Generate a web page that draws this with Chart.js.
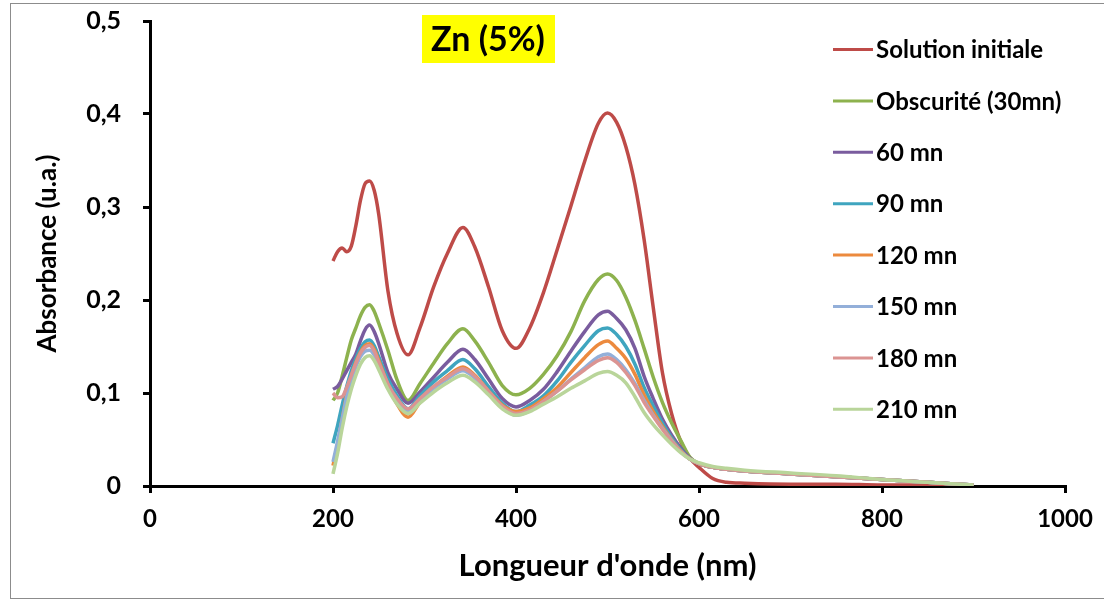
<!DOCTYPE html>
<html><head><meta charset="utf-8">
<script src="https://cdn.jsdelivr.net/npm/chart.js@4.4.1/dist/chart.umd.min.js"></script>
<style>html,body{margin:0;padding:0;background:#fff}#wrap{width:1104px;height:601px;position:relative}</style>
</head><body><div id="wrap"><canvas id="c" width="1104" height="601"></canvas></div>
<script>
const wavelengths = [200,205,210,215,220,225,230,235,240,245,250,260,270,282,295,310,325,342,355,370,385,400,415,430,445,460,475,490,500,510,520,530,540,550,560,570,580,590,600,615,630,650,700,750,800,850,900];

const solutionInitiale = [0.242,0.252,0.256,0.252,0.258,0.280,0.307,0.325,0.328,0.318,0.292,0.210,0.164,0.141,0.170,0.214,0.250,0.278,0.257,0.214,0.167,0.148,0.170,0.208,0.254,0.301,0.349,0.390,0.401,0.391,0.365,0.324,0.265,0.192,0.122,0.078,0.048,0.030,0.020,0.008,0.004,0.003,0.002,0.002,0.001,0.001,0.000];
const obscurite30 = [0.092,0.100,0.118,0.138,0.157,0.170,0.183,0.192,0.195,0.188,0.175,0.146,0.114,0.092,0.110,0.132,0.153,0.169,0.156,0.133,0.108,0.098,0.105,0.120,0.140,0.166,0.199,0.222,0.228,0.221,0.203,0.178,0.148,0.117,0.090,0.068,0.049,0.031,0.024,0.020,0.018,0.016,0.013,0.010,0.007,0.004,0.001];
const mn60 = [0.104,0.107,0.115,0.124,0.133,0.142,0.156,0.168,0.173,0.166,0.153,0.122,0.104,0.089,0.101,0.117,0.133,0.147,0.136,0.115,0.094,0.085,0.092,0.104,0.123,0.145,0.166,0.184,0.188,0.180,0.168,0.148,0.118,0.094,0.072,0.055,0.041,0.030,0.024,0.020,0.018,0.016,0.013,0.010,0.007,0.004,0.001];
const mn90 = [0.046,0.065,0.087,0.107,0.124,0.137,0.148,0.155,0.157,0.151,0.139,0.115,0.097,0.083,0.097,0.112,0.124,0.136,0.126,0.107,0.089,0.080,0.087,0.097,0.113,0.133,0.151,0.167,0.170,0.163,0.150,0.131,0.106,0.086,0.068,0.052,0.039,0.029,0.024,0.020,0.018,0.016,0.013,0.010,0.007,0.004,0.001];
const mn120 = [0.022,0.045,0.072,0.098,0.118,0.133,0.144,0.151,0.153,0.147,0.135,0.109,0.088,0.074,0.090,0.106,0.118,0.128,0.119,0.102,0.087,0.080,0.084,0.094,0.106,0.122,0.138,0.152,0.156,0.148,0.137,0.120,0.098,0.080,0.064,0.050,0.038,0.029,0.024,0.020,0.018,0.016,0.013,0.010,0.007,0.004,0.001];
const mn150 = [0.026,0.048,0.072,0.096,0.114,0.128,0.139,0.145,0.146,0.141,0.130,0.107,0.090,0.080,0.092,0.105,0.115,0.124,0.116,0.100,0.085,0.076,0.081,0.091,0.102,0.115,0.127,0.139,0.142,0.136,0.125,0.110,0.092,0.076,0.062,0.049,0.037,0.029,0.024,0.020,0.018,0.016,0.013,0.010,0.007,0.004,0.001];
const mn180 = [0.100,0.095,0.096,0.106,0.119,0.132,0.143,0.149,0.151,0.145,0.133,0.110,0.094,0.083,0.094,0.107,0.117,0.126,0.118,0.102,0.086,0.078,0.082,0.091,0.102,0.114,0.125,0.135,0.138,0.133,0.122,0.108,0.090,0.075,0.061,0.048,0.037,0.029,0.024,0.020,0.018,0.016,0.013,0.010,0.007,0.004,0.001];
const mn210 = [0.013,0.035,0.062,0.085,0.104,0.119,0.131,0.138,0.140,0.135,0.125,0.104,0.088,0.078,0.089,0.101,0.111,0.119,0.112,0.098,0.083,0.076,0.080,0.088,0.096,0.105,0.113,0.121,0.123,0.119,0.111,0.096,0.079,0.066,0.055,0.045,0.036,0.029,0.025,0.021,0.019,0.017,0.014,0.011,0.007,0.004,0.001];

const seriesNames = ["Solution initiale","Obscurité (30mn)","60 mn","90 mn","120 mn","150 mn","180 mn","210 mn"];
const seriesValues = [solutionInitiale, obscurite30, mn60, mn90, mn120, mn150, mn180, mn210];
const seriesColors = ["#BE4B48","#8DB24E","#7A5C9E","#3FA5BF","#EC8A3E","#93AFD9","#DB9492","#B9D59A"];

const xTickValues = [0,200,400,600,800,1000];
const yTickValues = [0,0.1,0.2,0.3,0.4,0.5];
const chartTitle = "Zn (5%)";
const xTitle = "Longueur d'onde (nm)";
const yTitle = "Absorbance (u.a.)";

const FONT = "Lato, 'Open Sans', sans-serif";

const datasets = seriesNames.map((name, i) => ({
  label: name,
  data: wavelengths.map((w, j) => ({x: w, y: seriesValues[i][j]})),
  borderColor: seriesColors[i],
  backgroundColor: seriesColors[i],
  borderWidth: 3.5,
  pointRadius: 0,
  cubicInterpolationMode: 'monotone',
  fill: false,
  order: seriesNames.length - i
}));

const framePlugin = {
  id: 'frame',
  beforeDraw(chart) {
    const ctx = chart.ctx;
    ctx.save();
    ctx.fillStyle = '#fff';
    ctx.fillRect(0, 0, chart.width, chart.height);
    ctx.strokeStyle = '#8c8c8c';
    ctx.lineWidth = 1;
    ctx.strokeRect(10.5, 3.5, 1200, 595);
    ctx.restore();
  },
  afterDraw(chart) {
    const ctx = chart.ctx;
    ctx.save();
    // title box
    ctx.font = "bold 34px " + FONT;
    ctx.fillStyle = '#FFFF00';
    ctx.fillRect(422, 15, 133, 48);
    ctx.fillStyle = '#000';
    ctx.textAlign = 'center';
    ctx.textBaseline = 'middle';
    ctx.fillText(chartTitle, 488, 40);
    // legend
    ctx.font = "bold 24px " + FONT;
    ctx.textAlign = 'left';
    const y0 = 49.5, dy = 51.4;
    chart.data.datasets.forEach((ds, i) => {
      const y = y0 + i * dy;
      ctx.strokeStyle = ds.borderColor;
      ctx.lineWidth = 3;
      ctx.beginPath();
      ctx.moveTo(833, y);
      ctx.lineTo(873, y);
      ctx.stroke();
      ctx.fillStyle = '#000';
      ctx.fillText(ds.label, 876, y + 1);
    });
    ctx.restore();
  }
};

new Chart(document.getElementById('c'), {
  type: 'line',
  data: { datasets },
  options: {
    responsive: false,
    animation: false,
    events: [],
    layout: { padding: { left: 0, right: 39, top: 21, bottom: 0 } },
    plugins: { legend: { display: false }, tooltip: { enabled: false }, title: { display: false } },
    scales: {
      x: {
        type: 'linear', min: 0, max: 1000,
        afterFit(s) { s.height = 115; s.paddingLeft = 0; s.paddingRight = 0; },
        afterBuildTicks(s) { s.ticks = xTickValues.map(v => ({value: v})); },
        border: { display: true, color: '#000', width: 3 },
        grid: { display: true, drawOnChartArea: false, drawTicks: true, tickLength: 7, color: '#000', lineWidth: 3 },
        ticks: { color: '#000', font: { family: FONT, size: 24, weight: 'bold' }, padding: 12, maxRotation: 0,
          callback: v => String(v) },
        title: { display: true, text: xTitle, color: '#000', font: { family: FONT, size: 31, weight: 'bold' }, padding: { top: 0, bottom: 16 } }
      },
      y: {
        type: 'linear', min: 0, max: 0.5,
        afterFit(s) { s.width = 150; s.paddingTop = 0; s.paddingBottom = 0; },
        afterBuildTicks(s) { s.ticks = yTickValues.map(v => ({value: v})); },
        border: { display: true, color: '#000', width: 3 },
        grid: { display: true, drawOnChartArea: false, drawTicks: true, tickLength: 7, color: '#000', lineWidth: 3 },
        ticks: { color: '#000', font: { family: FONT, size: 25, weight: 'bold' }, padding: 22,
          callback: v => v === 0 ? '0' : v.toFixed(1).replace('.', ',') },
        title: { display: true, text: yTitle, color: '#000', font: { family: FONT, size: 26, weight: 'bold' }, padding: { top: 32, bottom: 0 } }
      }
    }
  },
  plugins: [framePlugin]
});
</script></body></html>
